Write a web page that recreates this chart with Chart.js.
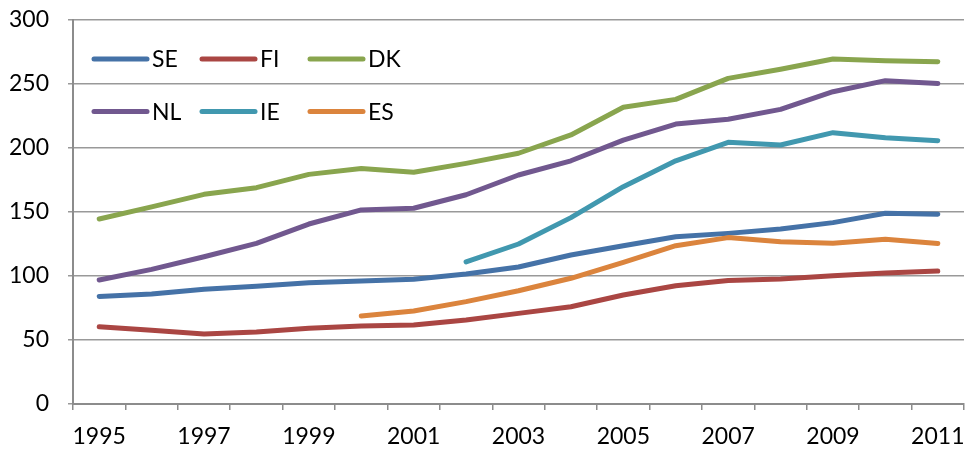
<!DOCTYPE html>
<html>
<head>
<meta charset="utf-8">
<script src="https://cdn.jsdelivr.net/npm/chart.js@4"></script>
<style>
  html, body { margin: 0; padding: 0; background: #ffffff; }
  #wrap { width: 967px; height: 451px; position: relative; }
  canvas { display: block; }
</style>
</head>
<body>
<div id="wrap"><canvas id="c" width="967" height="451"></canvas></div>
<script>
const years = ['1995','1996','1997','1998','1999','2000','2001','2002','2003','2004','2005','2006','2007','2008','2009','2010','2011'];
const tickLabels = ['1995','','1997','','1999','','2001','','2003','','2005','','2007','','2009','','2011'];
const yTicks = [0, 50, 100, 150, 200, 250, 300];

const seriesNames = ['SE', 'FI', 'DK', 'NL', 'IE', 'ES'];
const seriesColors = ['#4572A7', '#AA4643', '#89A54E', '#71588F', '#4198AF', '#DB843D'];

const SE = [84, 86, 89.6, 92, 94.8, 96, 97.4, 101.6, 107, 116.4, 123.7, 130.7, 133.3, 136.7, 141.7, 149, 148.2];
const FI = [60.4, 57.7, 54.7, 56.2, 59.1, 61, 61.7, 65.6, 70.8, 76, 85.2, 92.4, 96.4, 97.7, 100.2, 102.3, 103.9];
const DK = [144.5, 154, 163.8, 169, 179.4, 184, 181, 188, 195.9, 210.2, 231.8, 238, 254.4, 261.5, 269.5, 268.2, 267.4];
const NL = [96.9, 105.2, 115, 125.5, 140.6, 151.6, 152.9, 163.5, 178.9, 190, 206.2, 218.7, 222.4, 230.2, 244, 252.6, 250.3];
const IE = [null, null, null, null, null, null, null, 111, 125, 145.6, 169.8, 190, 204.4, 202.3, 212, 208, 205.7];
const ES = [null, null, null, null, null, 68.7, 72.7, 80, 88.5, 98.2, 110.7, 123.7, 130, 126.8, 125.5, 128.7, 125.3];

const seriesData = [SE, FI, DK, NL, IE, ES];

const FONT = 'Lato';
const FONT_SIZE = 23;

const insideLegend = {
  id: 'insideLegend',
  afterDatasetsDraw(chart) {
    const ctx = chart.ctx;
    const a = chart.chartArea;
    ctx.save();
    ctx.font = FONT_SIZE + 'px ' + FONT;
    ctx.textBaseline = 'middle';
    ctx.textAlign = 'left';
    chart.data.datasets.forEach((ds, i) => {
      const col = i % 3, row = Math.floor(i / 3);
      const x0 = a.left + 21 + col * 108;
      const y = a.top + 39 + row * 52.5;
      ctx.strokeStyle = ds.borderColor;
      ctx.lineWidth = 5;
      ctx.lineCap = 'round';
      ctx.beginPath();
      ctx.moveTo(x0, y);
      ctx.lineTo(x0 + 53, y);
      ctx.stroke();
      ctx.fillStyle = '#000000';
      ctx.fillText(ds.label, x0 + 58, y + 1);
    });
    ctx.restore();
  }
};

function build() {
  const datasets = seriesNames.map((name, i) => ({
    label: name,
    data: seriesData[i],
    borderColor: seriesColors[i],
    backgroundColor: seriesColors[i],
    borderWidth: 5,
    borderCapStyle: 'round',
    borderJoinStyle: 'round',
    pointRadius: 0,
    pointHoverRadius: 0,
    tension: 0,
    fill: false,
    spanGaps: false,
    order: seriesNames.length - i
  }));

  new Chart(document.getElementById('c'), {
    type: 'line',
    data: { labels: years, datasets },
    plugins: [insideLegend],
    options: {
      responsive: false,
      animation: false,
      devicePixelRatio: 1,
      layout: { padding: { top: 20, right: 3, left: 0, bottom: 0 } },
      plugins: {
        legend: { display: false },
        tooltip: { enabled: false },
        title: { display: false }
      },
      scales: {
        x: {
          type: 'category',
          offset: true,
          grid: {
            offset: true,
            drawOnChartArea: false,
            drawTicks: true,
            tickLength: 6,
            color: '#8c8c8c',
            lineWidth: 1.5
          },
          border: { display: true, color: '#8c8c8c', width: 2 },
          ticks: {
            autoSkip: false,
            maxRotation: 0,
            minRotation: 0,
            padding: 13,
            color: '#000000',
            font: { family: FONT, size: FONT_SIZE },
            callback: (v, i) => tickLabels[i]
          },
          afterFit: (s) => { s.height = 47; s.paddingLeft = 0; s.paddingRight = 0; }
        },
        y: {
          min: 0,
          max: 300,
          afterBuildTicks: (s) => { s.ticks = yTicks.map(v => ({ value: v })); },
          grid: {
            drawTicks: true,
            tickLength: 5,
            color: '#999999',
            lineWidth: 1.5
          },
          border: { display: true, color: '#8c8c8c', width: 2 },
          ticks: {
            padding: 19,
            color: '#000000',
            font: { family: FONT, size: FONT_SIZE }
          },
          afterFit: (s) => { s.width = 73; s.paddingTop = 0; s.paddingBottom = 0; }
        }
      }
    }
  });
}

if (document.fonts && document.fonts.load) {
  document.fonts.load(FONT_SIZE + 'px ' + FONT).then(build, build);
} else {
  build();
}
</script>
</body>
</html>
